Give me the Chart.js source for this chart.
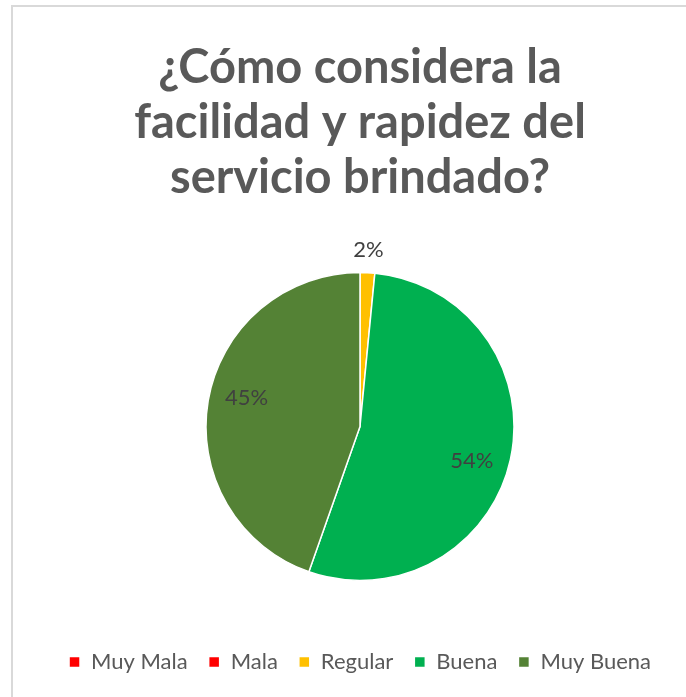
<!DOCTYPE html>
<html>
<head>
<meta charset="utf-8">
<script src="https://cdn.jsdelivr.net/npm/chart.js@4/dist/chart.umd.min.js"></script>
<style>
  html, body { margin: 0; padding: 0; background: #fff; overflow: hidden; }
  #frame {
    position: absolute; left: 11px; top: 5px;
    width: 720px; height: 720px;
    border: 2px solid #d9d9d9;
  }
  #wrap {
    position: absolute; left: 12px; top: 6px;
    width: 696px; height: 691px;
  }
</style>
</head>
<body>
<div id="frame"></div>
<div id="wrap"><canvas id="pieChart"></canvas></div>
<script>
const categories = ['Muy Mala', 'Mala', 'Regular', 'Buena', 'Muy Buena'];
const counts = [0, 0, 1, 35, 29];
const sliceColors = ['#FF0000', '#FF0000', '#FFC000', '#00B050', '#548235'];
const titleLines = ['¿Cómo considera la', 'facilidad y rapidez del', 'servicio brindado?'];

const total = counts.reduce((a, b) => a + b, 0);

// percent labels, small slices go outside
const pctLabels = {
  id: 'pctLabels',
  afterDatasetsDraw(chart) {
    const ctx = chart.ctx;
    const arcs = chart.getDatasetMeta(0).data;
    ctx.save();
    ctx.font = '22px Lato, sans-serif';
    ctx.fillStyle = '#404040';
    ctx.textAlign = 'center';
    ctx.textBaseline = 'middle';
    arcs.forEach((arc, i) => {
      const v = counts[i];
      if (!v) return;
      const p = arc.getProps(['x', 'y', 'startAngle', 'endAngle', 'outerRadius'], true);
      const share = v / total;
      const outside = share < 0.05;
      const mid = (p.startAngle + p.endAngle) / 2 + (outside ? 0 : 0.08);
      const r = outside ? p.outerRadius + 23 : p.outerRadius * 0.76;
      const x = p.x + Math.cos(mid) * r;
      const y = p.y + Math.sin(mid) * r;
      ctx.fillText(Math.round(share * 100) + '%', x, y);
    });
    ctx.restore();
  }
};

new Chart(document.getElementById('pieChart'), {
  type: 'pie',
  data: {
    labels: categories,
    datasets: [{
      data: counts,
      backgroundColor: sliceColors,
      borderColor: '#ffffff',
      borderWidth: 1.5
    }]
  },
  options: {
    responsive: true,
    maintainAspectRatio: false,
    animation: false,
    radius: 154,
    layout: { padding: { top: 0, bottom: 14, left: 0, right: 0 } },
    plugins: {
      title: {
        display: true,
        text: titleLines,
        color: '#595959',
        font: { family: 'Lato, sans-serif', size: 47, weight: 'bold', lineHeight: 1.17 },
        padding: { top: 34, bottom: 18 }
      },
      legend: {
        position: 'bottom',
        labels: {
          color: '#595959',
          font: { family: 'Lato, sans-serif', size: 22 },
          boxWidth: 11,
          boxHeight: 11,
          padding: 21
        }
      },
      tooltip: { enabled: false }
    }
  },
  plugins: [pctLabels]
});
</script>
</body>
</html>
